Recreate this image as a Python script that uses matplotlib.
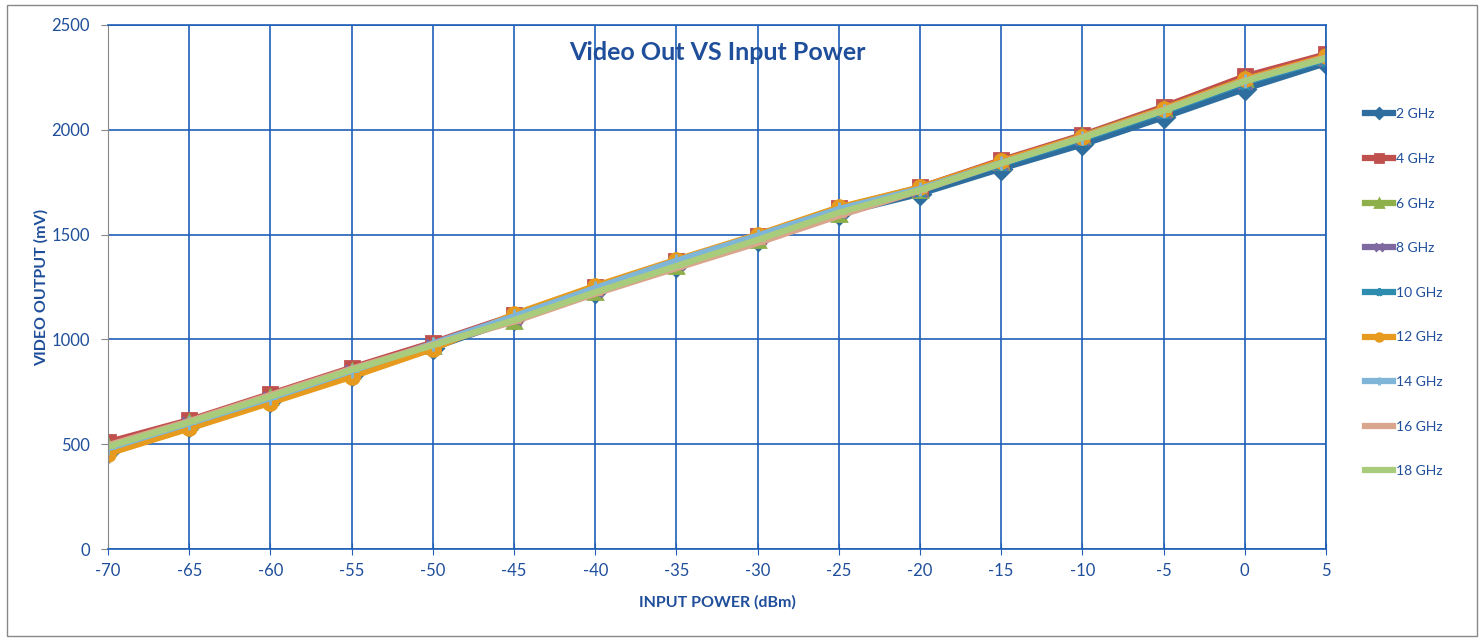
import numpy as np
import matplotlib
matplotlib.use("Agg")
import matplotlib.pyplot as plt
from matplotlib.patches import Rectangle

plt.rcParams['font.family'] = ['Lato', 'DejaVu Sans']
plt.rcParams['axes.unicode_minus'] = False

# input power (dBm)
x = [-70, -65, -60, -55, -50, -45, -40, -35, -30, -25, -20, -15, -10, -5, 0, 5]

# video output (mV) per frequency
ghz2 = [465, 585, 705, 830, 960, 1095, 1225, 1350, 1475, 1600, 1695, 1815, 1930, 2060, 2195, 2318]
ghz4 = [510, 615, 740, 865, 985, 1115, 1250, 1375, 1495, 1625, 1725, 1855, 1975, 2110, 2255, 2360]
ghz6 = [490, 605, 725, 850, 970, 1090, 1225, 1350, 1475, 1600, 1715, 1845, 1970, 2100, 2240, 2345]
ghz8 = [475, 595, 715, 845, 968, 1100, 1235, 1365, 1488, 1612, 1715, 1840, 1960, 2090, 2230, 2340]
ghz10 = [470, 590, 710, 838, 965, 1105, 1240, 1370, 1490, 1615, 1712, 1835, 1955, 2085, 2225, 2335]
ghz12 = [455, 575, 698, 822, 955, 1120, 1255, 1380, 1500, 1630, 1725, 1850, 1968, 2100, 2240, 2350]
ghz14 = [480, 600, 720, 850, 980, 1110, 1245, 1375, 1495, 1622, 1718, 1842, 1962, 2092, 2232, 2340]
ghz16 = [495, 610, 735, 860, 975, 1085, 1218, 1340, 1460, 1590, 1710, 1840, 1965, 2095, 2235, 2345]
ghz18 = [488, 605, 728, 855, 972, 1092, 1225, 1350, 1475, 1605, 1712, 1840, 1962, 2092, 2232, 2342]

names = ["2 GHz", "4 GHz", "6 GHz", "8 GHz", "10 GHz", "12 GHz", "14 GHz", "16 GHz", "18 GHz"]
series = [ghz2, ghz4, ghz6, ghz8, ghz10, ghz12, ghz14, ghz16, ghz18]
colors = ["#2E6E9E", "#C0504D", "#8DB04A", "#7E6AA0", "#2E8CAE", "#E69A1E", "#7FB6D8", "#D9A58C", "#A9CC7C"]
markers = ["D", "s", "^", "x", "*", "o", "+", "_", "_"]

blue = "#1F4E9A"
grid_blue = "#1F5FB8"

fig = plt.figure(figsize=(14.84, 6.41), dpi=100)
fig.patches.append(Rectangle((0.005, 0.008), 0.99, 0.984, transform=fig.transFigure,
                             fill=False, edgecolor="#888888", linewidth=1.0))
ax = fig.add_axes([0.0728, 0.1435, 0.8207, 0.8175])

for name, s, c, m in zip(names, series, colors, markers):
    ax.plot(x, s, color=c, linewidth=4.5, marker=m, markersize=10,
            markeredgecolor=c, markerfacecolor=c, markeredgewidth=2, label=name)

ax.set_xlim(-70, 5)
ax.set_ylim(0, 2500)
ax.set_xticks(np.arange(-70, 6, 5))
ax.set_yticks(np.arange(0, 2501, 500))
ax.grid(True, color=grid_blue, linewidth=1.2)
ax.set_axisbelow(True)

for sp in ["top", "right", "bottom"]:
    ax.spines[sp].set_color(grid_blue)
    ax.spines[sp].set_linewidth(1.2)
ax.spines["left"].set_color("#888888")

ax.tick_params(axis="x", direction="inout", length=8, colors=grid_blue, labelcolor=blue, labelsize=12, pad=6)
ax.tick_params(axis="y", direction="out", length=5, colors="#888888", labelcolor=blue, labelsize=12, pad=8)

ax.set_xlabel("INPUT POWER (dBm)", color=blue, fontsize=11.5, fontweight="bold", labelpad=12)
ax.set_ylabel("VIDEO OUTPUT (mV)", color=blue, fontsize=11.5, fontweight="bold", labelpad=2)
ax.text(0.5, 0.97, "Video Out VS Input Power", transform=ax.transAxes, ha="center", va="top",
        color=blue, fontsize=18, fontweight="bold")

leg = ax.legend(loc="upper left", bbox_to_anchor=(1.022, 0.865), frameon=False,
                fontsize=10, labelspacing=2.35, handlelength=2.0, handletextpad=0.2,
                markerscale=0.55)
for t in leg.get_texts():
    t.set_color(blue)

fig.savefig("out.png", dpi=100)
